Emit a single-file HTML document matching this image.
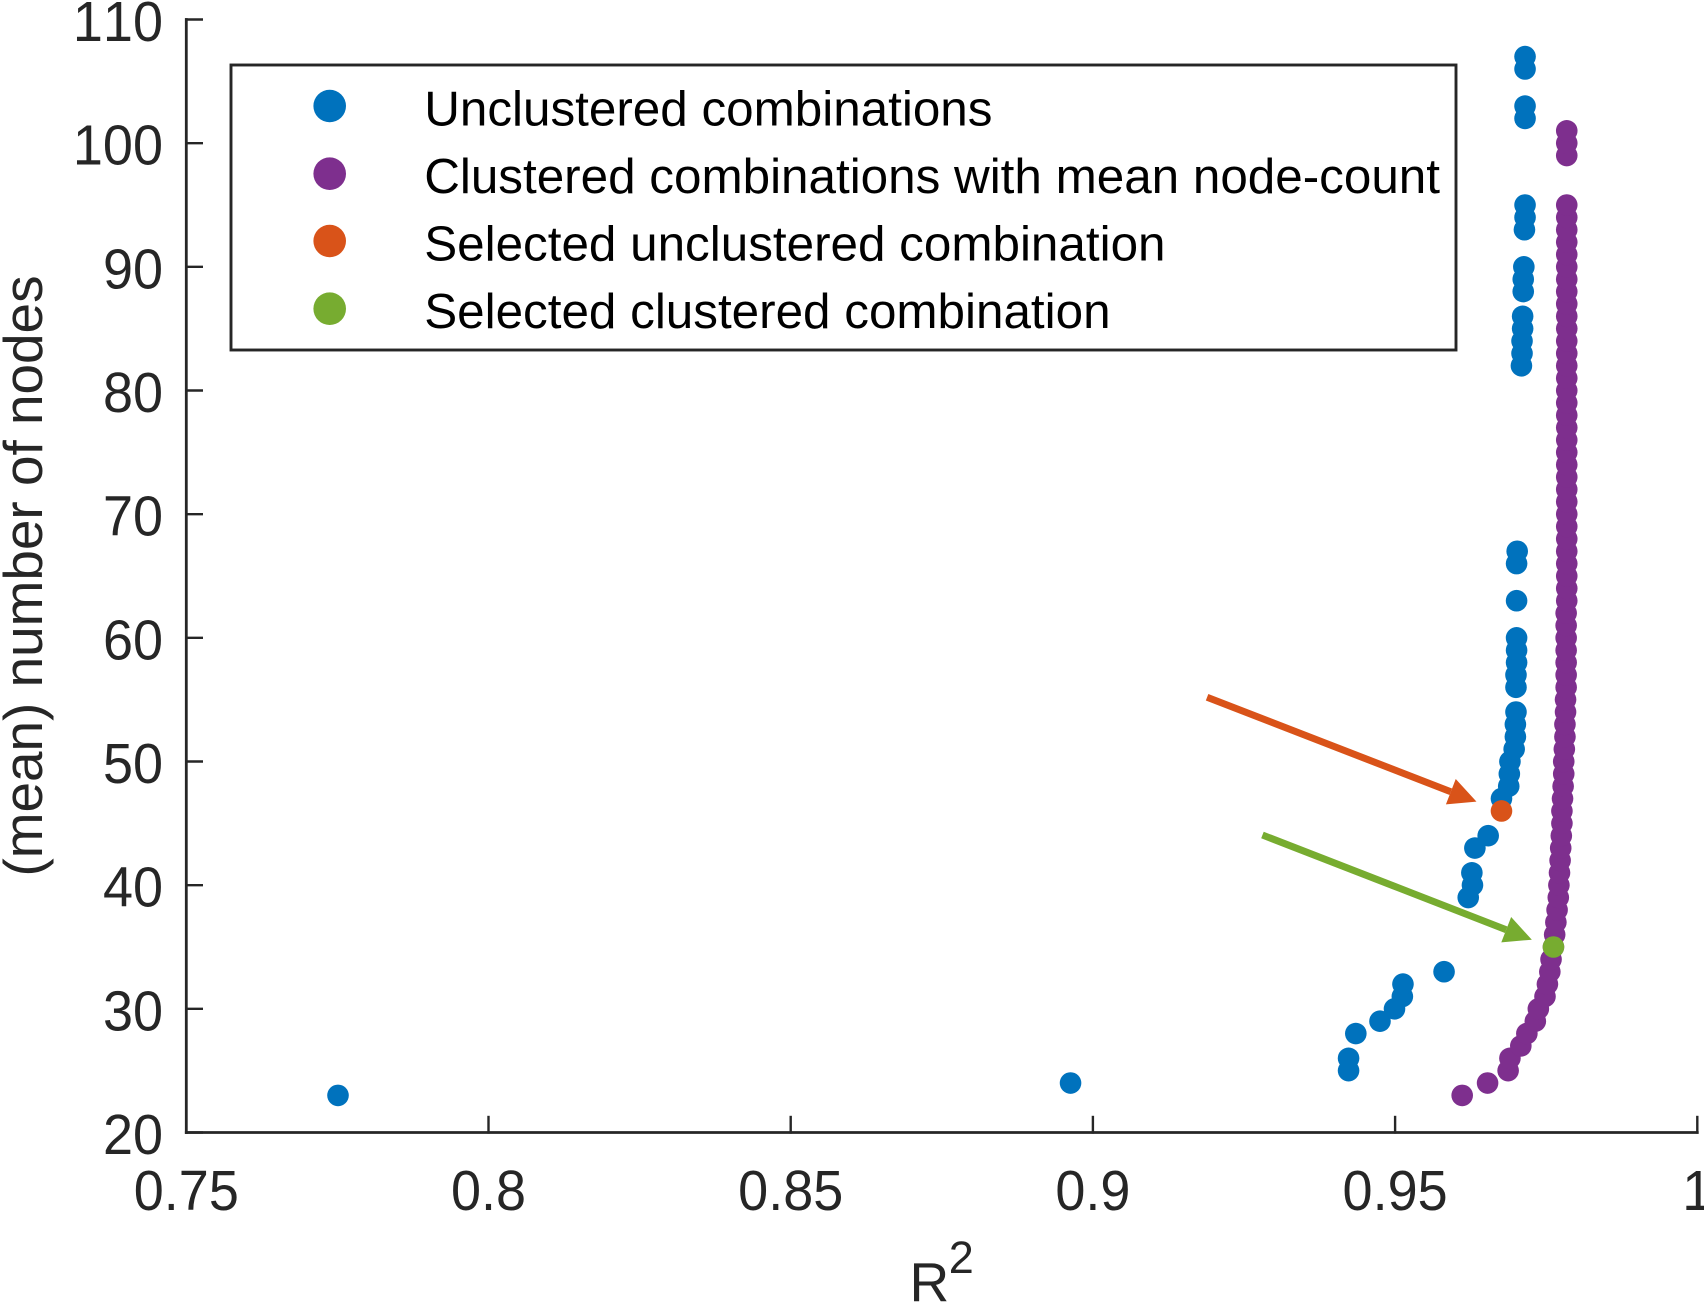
<!DOCTYPE html>
<html lang="en">
<head>
<meta charset="utf-8">
<title>R squared versus mean number of nodes</title>
<style>
  html, body { margin: 0; padding: 0; background: #fff; }
  svg { display: block; font-family: "Liberation Sans", Arial, sans-serif; }
  .no-kern { font-kerning: none; }
</style>
</head>
<body>
<svg id="chart" xmlns="http://www.w3.org/2000/svg" width="1704" height="1304" viewBox="0 0 1704 1304">
  <rect x="0" y="0" width="1704" height="1304" fill="#ffffff"/>
  <g id="axes"></g>
  <g id="marks"></g>
  <g>
    <rect x="231" y="65" width="1225" height="285" fill="#ffffff" stroke="#262626" stroke-width="2.9"/>
    <g>
      <circle cx="329.7" cy="106" r="16.3" fill="#0072BD"/>
      <text x="424.2" y="125.5" font-size="49.4" fill="#000">Unclustered combinations</text>
    </g>
    <g>
      <circle cx="329.7" cy="173.7" r="16.3" fill="#7E2F8E"/>
      <text x="424.2" y="193" font-size="49.4" fill="#000">Clustered combinations with mean node-count</text>
    </g>
    <g>
      <circle cx="329.7" cy="241" r="16.3" fill="#D95319"/>
      <text x="424.2" y="260.5" font-size="49.4" fill="#000">Selected unclustered combination</text>
    </g>
    <g>
      <circle cx="329.7" cy="308.7" r="16.3" fill="#77AC30"/>
      <text x="424.2" y="328" font-size="49.4" fill="#000">Selected clustered combination</text>
    </g>
  </g>
  <text transform="translate(42 576) rotate(-90)" text-anchor="middle" font-size="54.9" fill="#262626">(mean) number of nodes</text>
  <text x="909.5" y="1301" font-size="55" fill="#262626">R<tspan font-size="45" dx="-0.5" dy="-28">2</tspan></text>
</svg>
<script>
const xTickValues = [0.75, 0.8, 0.85, 0.9, 0.95, 1];
const xTickLabels = ["0.75", "0.8", "0.85", "0.9", "0.95", "1"];
const yTickValues = [20, 30, 40, 50, 60, 70, 80, 90, 100, 110];
const yTickLabels = ["20", "30", "40", "50", "60", "70", "80", "90", "100", "110"];

const unclusteredNodes = [23, 24, 25, 26, 28, 29, 30, 31, 32, 33, 39, 40, 41, 43, 44, 47, 48, 49, 50, 51, 52, 53, 54, 56, 57, 58, 59, 60, 63, 66, 67, 82, 83, 84, 85, 86, 88, 89, 90, 93, 94, 95, 102, 103, 106, 107];
const unclusteredR2 = [0.7751, 0.8963, 0.9423, 0.9423, 0.9435, 0.9475, 0.9499, 0.9512, 0.9513, 0.9581, 0.9621, 0.9628, 0.9627, 0.9632, 0.9654, 0.9676, 0.9688, 0.9689, 0.9690, 0.9697, 0.9699, 0.9699, 0.9700, 0.9700, 0.9700, 0.9701, 0.9701, 0.9701, 0.9701, 0.9701, 0.9702, 0.9709, 0.9710, 0.9710, 0.9711, 0.9711, 0.9712, 0.9712, 0.9713, 0.9714, 0.9715, 0.9715, 0.9715, 0.9715, 0.9715, 0.9715];

const clusteredNodes = [23, 24, 25, 26, 27, 28, 29, 30, 31, 32, 33, 34, 35, 36, 37, 38, 39, 40, 41, 42, 43, 44, 45, 46, 47, 48, 49, 50, 51, 52, 53, 54, 55, 56, 57, 58, 59, 60, 61, 62, 63, 64, 65, 66, 67, 68, 69, 70, 71, 72, 73, 74, 75, 76, 77, 78, 79, 80, 81, 82, 83, 84, 85, 86, 87, 88, 89, 90, 91, 92, 93, 94, 95, 99, 100, 101];
const clusteredR2 = [0.9611, 0.9653, 0.9687, 0.9690, 0.9708, 0.9718, 0.9732, 0.9737, 0.9748, 0.9752, 0.9756, 0.9758, 0.9762, 0.9764, 0.9766, 0.9768, 0.9770, 0.9771, 0.9772, 0.9773, 0.9774, 0.9775, 0.9776, 0.9776, 0.9777, 0.9778, 0.9779, 0.9779, 0.9780, 0.9781, 0.9781, 0.9782, 0.9782, 0.9783, 0.9783, 0.9783, 0.9783, 0.9783, 0.9783, 0.9783, 0.9784, 0.9784, 0.9784, 0.9784, 0.9784, 0.9784, 0.9784, 0.9784, 0.9784, 0.9784, 0.9784, 0.9784, 0.9784, 0.9784, 0.9784, 0.9784, 0.9784, 0.9784, 0.9784, 0.9784, 0.9784, 0.9784, 0.9784, 0.9784, 0.9784, 0.9784, 0.9784, 0.9784, 0.9784, 0.9784, 0.9784, 0.9784, 0.9784, 0.9784, 0.9784, 0.9784];

const selectedUnclusteredNodes = [46];
const selectedUnclusteredR2 = [0.9676];
const selectedClusteredNodes = [35];
const selectedClusteredR2 = [0.9762];

const SVG_NS = "http://www.w3.org/2000/svg";
const axesGroup = document.getElementById("axes");
const marksGroup = document.getElementById("marks");

const plotLeft = 186.3, plotRight = 1697.3, plotBottom = 1132.5, plotTop = 19.5;
const xMin = 0.75, xMax = 1, yMin = 20, yMax = 110;
function xScale(v) { return plotLeft + (v - xMin) / (xMax - xMin) * (plotRight - plotLeft); }
function yScale(v) { return plotBottom - (v - yMin) / (yMax - yMin) * (plotBottom - plotTop); }

function line(parent, x1, y1, x2, y2, color, width) {
  const el = document.createElementNS(SVG_NS, "line");
  el.setAttribute("x1", x1);
  el.setAttribute("y1", y1);
  el.setAttribute("x2", x2);
  el.setAttribute("y2", y2);
  el.setAttribute("stroke", color);
  el.setAttribute("stroke-width", width);
  el.setAttribute("stroke-linecap", "square");
  parent.appendChild(el);
  return el;
}

const axisColor = "#262626";
const xAxisLine = line(axesGroup, plotLeft, plotBottom, plotRight, plotBottom, axisColor, 2.8);


const yAxisLine = line(axesGroup, plotLeft, plotBottom, plotLeft, plotTop, axisColor, 2.8);



xTickValues.forEach(function (v, i) {
  const px = xScale(v);
  const tick = line(axesGroup, px, plotBottom, px, plotBottom - 15.5, axisColor, 2.4);
  
  
  const label = document.createElementNS(SVG_NS, "text");
  label.setAttribute("class", "no-kern");
  label.setAttribute("transform", "translate(" + px + " 1210) scale(1 1.045)");
  label.setAttribute("text-anchor", "middle");
  label.setAttribute("font-size", "54");
  label.setAttribute("fill", axisColor);
  
  
  label.textContent = xTickLabels[i];
  axesGroup.appendChild(label);
});

yTickValues.forEach(function (v, i) {
  const py = yScale(v);
  const tick = line(axesGroup, plotLeft, py, plotLeft + 15.5, py, axisColor, 2.4);
  
  
  const label = document.createElementNS(SVG_NS, "text");
  label.setAttribute("class", "no-kern");
  label.setAttribute("transform", "translate(163 " + (py + 21.5) + ") scale(1 1.045)");
  label.setAttribute("text-anchor", "end");
  label.setAttribute("font-size", "54");
  label.setAttribute("fill", axisColor);
  
  
  label.textContent = yTickLabels[i];
  axesGroup.appendChild(label);
});

function drawSeries(nodes, r2, color, markName, radius) {
  nodes.forEach(function (n, i) {
    const c = document.createElementNS(SVG_NS, "circle");
    c.setAttribute("cx", xScale(r2[i]));
    c.setAttribute("cy", yScale(n));
    c.setAttribute("r", radius);
    c.setAttribute("fill", color);
    
    
    marksGroup.appendChild(c);
  });
}

function drawArrow(pointX, pointY, color, arrowName, tipDx, tipDy, tailDx, tailDy) {
  const tipX = xScale(pointX) + tipDx, tipY = yScale(pointY) + tipDy;
  const tailX = xScale(pointX) + tailDx, tailY = yScale(pointY) + tailDy;
  const dx = tipX - tailX, dy = tipY - tailY, len = Math.sqrt(dx * dx + dy * dy);
  const ux = dx / len, uy = dy / len;
  const headLength = 27.5, headHalf = 13.6;
  const baseX = tipX - ux * headLength, baseY = tipY - uy * headLength;
  const shaft = document.createElementNS(SVG_NS, "line");
  shaft.setAttribute("x1", tailX);
  shaft.setAttribute("y1", tailY);
  shaft.setAttribute("x2", baseX);
  shaft.setAttribute("y2", baseY);
  shaft.setAttribute("stroke", color);
  shaft.setAttribute("stroke-width", 7);
  
  
  marksGroup.appendChild(shaft);
  const head = document.createElementNS(SVG_NS, "polygon");
  const pts = [
    [tipX, tipY],
    [baseX - uy * headHalf, baseY + ux * headHalf],
    [baseX + uy * headHalf, baseY - ux * headHalf]
  ];
  head.setAttribute("points", pts.map(function (p) { return p[0] + "," + p[1]; }).join(" "));
  head.setAttribute("fill", color);
  
  
  marksGroup.appendChild(head);
}

drawSeries(unclusteredNodes, unclusteredR2, "#0072BD", "unclustered-point", 10.8);
drawSeries(clusteredNodes, clusteredR2, "#7E2F8E", "clustered-point", 10.8);
drawSeries(selectedUnclusteredNodes, selectedUnclusteredR2, "#D95319", "selected-unclustered-point", 10.8);
drawSeries(selectedClusteredNodes, selectedClusteredR2, "#77AC30", "selected-clustered-point", 10.8);

drawArrow(selectedUnclusteredR2[0], selectedUnclusteredNodes[0], "#D95319", "selected-unclustered-arrow", -25, -9.3, -294.4, -113.7);
drawArrow(selectedClusteredR2[0], selectedClusteredNodes[0], "#77AC30", "selected-clustered-arrow", -21.6, -7.3, -291, -112);
</script>
</body>
</html>
